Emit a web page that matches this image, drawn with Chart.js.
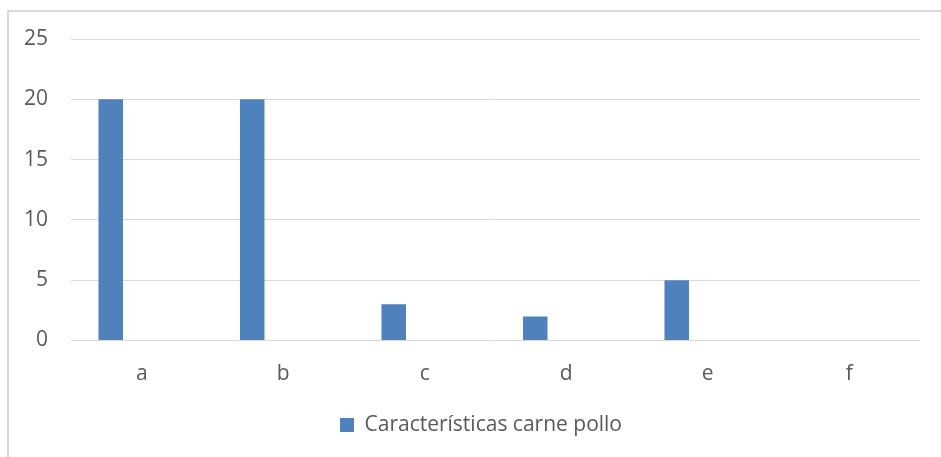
<!DOCTYPE html>
<html>
<head>
<meta charset="utf-8">
<script src="https://cdn.jsdelivr.net/npm/chart.js@4"></script>
<style>
  html, body { margin: 0; padding: 0; background: #fff; }
  #frame {
    position: absolute; left: 7px; top: 10px; width: 960px; height: 470px;
    border-left: 2px solid #d9d9d9; border-top: 2px solid #d9d9d9;
  }
  #wrap { position: absolute; left: 0; top: 0; width: 941px; height: 457px; }
</style>
</head>
<body>
<div id="frame"></div>
<div id="wrap"><canvas id="chart"></canvas></div>
<script>
// data
let categories = ["a", "b", "c", "d", "e", "f"];
let carnePollo = [20, 20, 3, 2, 5, 0];
let emptySeries = [0, 0, 0, 0, 0, 0];
let yTicks = [0, 5, 10, 15, 20, 25];

Chart.defaults.font.family = "'Open Sans', 'Liberation Sans', sans-serif";
Chart.defaults.color = "#595959";

// nudge the legend a little to the right, like the original
const legendShift = {
  id: "legendShift",
  afterLayout(chart) {
    chart.legend.left += 21;
    chart.legend.right += 21;
  },
};

const ctx = document.getElementById("chart");
const myChart = new Chart(ctx, {
  type: "bar",
  data: {
    labels: categories,
    datasets: [
      {
        label: "Características carne pollo",
        data: carnePollo,
        backgroundColor: "#4f81bd",
        borderWidth: 0,
        categoryPercentage: 0.877,
        barPercentage: 0.395,
      },
      {
        label: "",
        data: emptySeries,
        backgroundColor: "#c0504d",
        borderWidth: 0,
        categoryPercentage: 0.877,
        barPercentage: 0.395,
      },
    ],
  },
  options: {
    responsive: true,
    maintainAspectRatio: false,
    animation: false,
    layout: {
      padding: { top: 39, right: 21, bottom: 11.5, left: 0 },
    },
    plugins: {
      tooltip: { enabled: false },
      legend: {
        position: "bottom",
        labels: {
          boxWidth: 14,
          boxHeight: 14,
          padding: 10,
          font: { size: 21 },
          filter: (item) => item.datasetIndex === 0,
        },
      },
    },
    scales: {
      x: {
        grid: { display: false, drawTicks: false },
        border: { display: false },
        ticks: { padding: 21, font: { size: 21 } },
        afterFit: (scale) => { scale.height = 64; },
      },
      y: {
        min: 0,
        max: 25,
        afterBuildTicks: (scale) => {
          scale.ticks = yTicks.map((v) => ({ value: v }));
        },
        grid: { color: "#d9d9d9", lineWidth: 1, drawTicks: false },
        border: { display: false },
        ticks: { padding: 23, font: { size: 21 } },
        afterFit: (scale) => { scale.width = 71; },
      },
    },
  },
  plugins: [legendShift],
});
</script>
</body>
</html>
